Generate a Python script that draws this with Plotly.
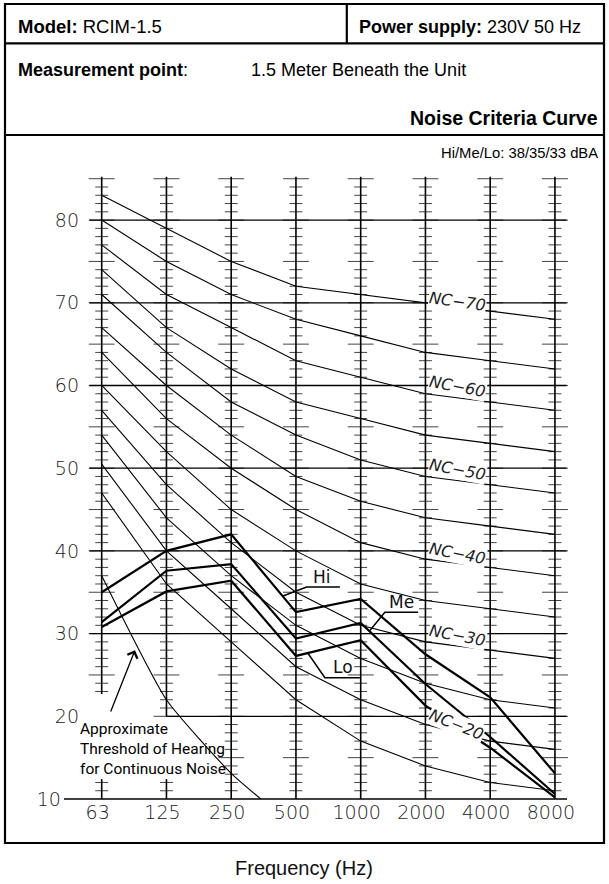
import numpy as np
import plotly.graph_objects as go

# Octave-band centre frequencies (category positions 0..7)
freq_labels = ["63", "125", "250", "500", "1000", "2000", "4000", "8000"]
db_ticks = [10, 20, 30, 40, 50, 60, 70, 80]
db_ticktext = ["10\u2007\u00a0", "20", "30", "40", "50", "60", "70", "80"]

# Noise criteria curves, sound pressure level (dB) per octave band
nc70 = [83, 79, 75, 72, 71, 70, 69, 68]
nc65 = [80, 75, 71, 68, 66, 64, 63, 62]
nc60 = [77, 71, 67, 63, 61, 59, 58, 57]
nc55 = [74, 67, 62, 58, 56, 54, 53, 52]
nc50 = [71, 64, 58, 54, 51, 49, 48, 47]
nc45 = [67, 60, 54, 49, 46, 44, 43, 42]
nc40 = [64, 56, 50, 45, 41, 39, 38, 37]
nc35 = [60, 52, 45, 40, 36, 34, 33, 32]
nc30 = [57, 48, 41, 35, 31, 29, 28, 27]
nc25 = [54, 44, 37, 31, 27, 24, 22, 21]
nc20 = [50.5, 40, 33, 26, 22, 19, 17, 16]
nc15 = [47, 36, 29, 22, 17, 14, 12, 11]

# Approximate threshold of hearing for continuous noise (63..500 Hz)
threshold = [37, 22, 13.1, 6.5]

# Measured unit spectra at high / medium / low fan speed
hi_level = [35, 40, 42, 32.6, 34.2, 27.5, 22.3, 13.1]
me_level = [31.4, 37.6, 38.4, 29.4, 31.3, 23.9, 17.5, 10.6]
lo_level = [30.8, 35.1, 36.4, 27.3, 29.2, 21.3, 16.2, 10.2]

nc_labels = ["NC\u221270", "NC\u221260", "NC\u221250", "NC\u221240", "NC\u221230", "NC\u221220"]

# ---------------------------------------------------------------- geometry
W, H = 609, 884
L, R, T, B = 88, 41, 176, 85
PW = W - L - R
PH = H - T - B
X_RANGE = [-0.2116, 7.2016]
Y_RANGE = [10, 85.33]


def fx(p):
    return (p - L) / PW


def fy(p):
    return (H - B - p) / PH


AXIS_FONT = dict(family="DejaVu Sans", size=19, color="#222", weight=300)
HEAD_FONT = "Liberation Sans"

fig = go.Figure()
cols = list(range(len(freq_labels)))

# ---------------------------------------------------------------- scale columns
col_spans = {0: [(22.7, 85.25), (10, 12.4)], 1: [(20, 85.25), (10, 12.4)]}
vx, vy, tx, ty = [], [], [], []
for i in cols:
    for lo, hi in col_spans.get(i, [(10, 85.25)]):
        vx += [i, i, None]
        vy += [lo, hi, None]
        for v in range(int(np.ceil(lo)), int(np.floor(hi)) + 1):
            if v == 10:
                continue
            half = 0.2 if v % 5 == 0 else 0.1
            tx += [i - half, i + half, None]
            ty += [v, v, None]
fig.add_trace(go.Scatter(x=tx, y=ty, mode="lines",
                         line=dict(color="#444", width=1), hoverinfo="skip"))
fig.add_trace(go.Scatter(x=vx, y=vy, mode="lines",
                         line=dict(color="#000", width=1.6), hoverinfo="skip"))

# ---------------------------------------------------------------- level grid
gx, gy = [], []
for v in db_ticks[1:]:
    start = 1 if v == 20 else -0.19
    gx += [start, 7.18, None]
    gy += [v, v, None]
fig.add_trace(go.Scatter(x=gx, y=gy, mode="lines",
                         line=dict(color="#000", width=1.3), hoverinfo="skip"))

# ---------------------------------------------------------------- NC curves
for curve in [nc70, nc65, nc60, nc55, nc50, nc45, nc40, nc35, nc30, nc25, nc20, nc15]:
    fig.add_trace(go.Scatter(x=cols, y=curve, mode="lines",
                             line=dict(color="#000", width=1.1), hoverinfo="skip"))

fig.add_trace(go.Scatter(x=cols[:len(threshold)], y=threshold, mode="lines",
                         line=dict(color="#000", width=1.1, shape="spline", smoothing=0.5),
                         hoverinfo="skip"))

# ---------------------------------------------------------------- unit spectra
for series in [hi_level, me_level, lo_level]:
    fig.add_trace(go.Scatter(x=cols, y=series, mode="lines",
                             line=dict(color="#000", width=2.2), hoverinfo="skip"))

# ---------------------------------------------------------------- annotations
ann = []

# NC curve labels between 2000 and 4000 Hz
nc_label_pos = [(5.5, 70.2, 8), (5.5, 59.9, 11), (5.5, 49.8, 11),
                (5.5, 39.7, 11), (5.5, 29.8, 11), (5.48, 19.0, 22)]
for text, (x, y, ang) in zip(nc_labels, nc_label_pos):
    ann.append(dict(x=x, y=y, xref="x", yref="y", text=text, showarrow=False,
                    textangle=ang, bgcolor="white", borderpad=0,
                    font=dict(family="DejaVu Sans", size=16, style="italic",
                              color="#222")))

# Hi / Me / Lo tags with leaders
tag_font = dict(family="DejaVu Sans", size=17, color="#111")
for text, x, y in [("Hi", 3.408, 36.84), ("Me", 4.628, 33.88), ("Lo", 3.725, 26.02)]:
    ann.append(dict(x=x, y=y, xref="x", yref="y", text=text, showarrow=False,
                    font=tag_font))

leaders = [
    [(2.799, 34.55), (3.165, 35.63), (3.679, 35.63)],
    [(4.142, 30.37), (4.373, 32.58), (4.887, 32.58)],
    [(3.185, 27.62), (3.447, 24.67), (3.987, 24.67)],
]
shapes = []
for pts in leaders:
    path = "M " + " L ".join(f"{x},{y}" for x, y in pts)
    shapes.append(dict(type="path", xref="x", yref="y", path=path,
                       line=dict(color="#000", width=1.5)))

# threshold of hearing note and arrow
ann.append(dict(x=0, y=16.0, xref="x", yref="y",
                text="Approximate<br>Threshold of Hearing<br>for Continuous Noise",
                showarrow=False, xanchor="left", yanchor="middle", align="left",
                xshift=-23.7, font=dict(family="Roboto", size=15.5, color="#000")))
ann.append(dict(x=0.514, y=28.0, xref="x", yref="y", ax=0.13, ay=20.4,
                axref="x", ayref="y", text="", showarrow=True, arrowhead=4,
                arrowsize=1.6, arrowwidth=1.3, arrowcolor="#000", standoff=0))

# header block
ann += [
    dict(x=fx(15.5), y=fy(26.7), text="<b>Model:</b> RCIM-1.5", xanchor="left",
         font=dict(family=HEAD_FONT, size=18.5, color="#000")),
    dict(x=fx(357), y=fy(26.7), text="<b>Power supply:</b> 230V 50 Hz", xanchor="left",
         font=dict(family=HEAD_FONT, size=18, color="#000")),
    dict(x=fx(15.5), y=fy(70), text="<b>Measurement point</b>:", xanchor="left",
         font=dict(family=HEAD_FONT, size=18, color="#000")),
    dict(x=fx(248.5), y=fy(70), text="1.5 Meter Beneath the Unit", xanchor="left",
         font=dict(family=HEAD_FONT, size=18, color="#000")),
    dict(x=fx(600), y=fy(118.3), text="<b>Noise Criteria Curve</b>", xanchor="right",
         font=dict(family=HEAD_FONT, size=19.5, color="#000")),
    dict(x=fx(600), y=fy(152.7), text="Hi/Me/Lo: 38/35/33 dBA", xanchor="right",
         font=dict(family=HEAD_FONT, size=14.8, color="#000")),
    dict(x=fx(304), y=fy(868), text="Frequency (Hz)", xanchor="center",
         font=dict(family=HEAD_FONT, size=20, color="#111")),
]
for a in ann:
    if "xref" not in a:
        a.update(xref="paper", yref="paper", yanchor="middle", showarrow=False)

# frame
frame_line = dict(color="#000", width=2.2)
shapes += [
    dict(type="rect", xref="paper", yref="paper", x0=fx(5), x1=fx(604),
         y0=fy(843), y1=fy(4), line=frame_line),
    dict(type="line", xref="paper", yref="paper", x0=fx(5), x1=fx(604),
         y0=fy(43.3), y1=fy(43.3), line=frame_line),
    dict(type="line", xref="paper", yref="paper", x0=fx(346.8), x1=fx(346.8),
         y0=fy(4), y1=fy(43.3), line=frame_line),
    dict(type="line", xref="paper", yref="paper", x0=fx(5), x1=fx(604),
         y0=fy(135), y1=fy(135), line=frame_line),
    # 10 dB base line extends left to its label
    dict(type="line", xref="paper", yref="paper", x0=fx(64), x1=fx(567),
         y0=0, y1=0, line=dict(color="#000", width=1.5)),
]

fig.update_layout(
    width=W, height=H,
    margin=dict(l=L, r=R, t=T, b=B, pad=0),
    paper_bgcolor="white", plot_bgcolor="white",
    showlegend=False,
    annotations=ann, shapes=shapes,
    xaxis=dict(range=X_RANGE, tickvals=cols, ticktext=freq_labels,
               showgrid=False, zeroline=False, showline=False, ticks="",
               tickfont=AXIS_FONT, ticklabelshift=-4, ticklabelstandoff=0),
    yaxis=dict(range=Y_RANGE, tickvals=db_ticks, ticktext=db_ticktext,
               showgrid=False, zeroline=False, showline=False, ticks="",
               tickfont=AXIS_FONT, ticklabelstandoff=8),
)

fig.write_html("out.html")
